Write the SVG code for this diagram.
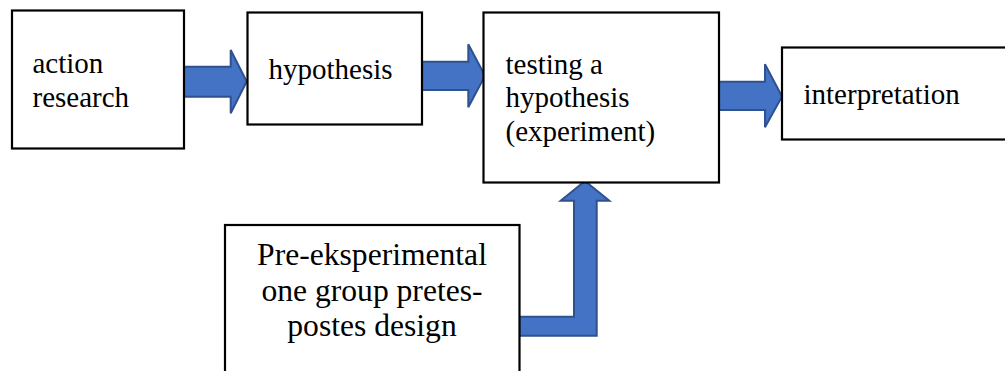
<svg xmlns="http://www.w3.org/2000/svg" width="1005" height="371" viewBox="0 0 1005 371">
<style>
.box{fill:#fff;stroke:#000;stroke-width:2.2}
.arr{fill:#4472C4;stroke:#2F528F;stroke-width:2;stroke-linejoin:miter}
.t{font-family:"Liberation Serif",Tinos,"Times New Roman",Times,"Nimbus Roman","DejaVu Serif","Noto Serif",serif;font-size:29px;fill:#000}
.b{font-family:"Liberation Serif",Tinos,"Times New Roman",Times,"Nimbus Roman","DejaVu Serif","Noto Serif",serif;font-size:31.6px;text-anchor:middle;fill:#000}
</style>
<rect width="1005" height="371" fill="#fff"/>
<g id="connectors">
<path class="arr" d="M184,66.7 L230.7,66.7 L230.7,50 L246.7,81.5 L230.7,113.3 L230.7,96.7 L184,96.7 Z"/>
<path class="arr" d="M422,61.7 L468.3,61.7 L468.3,44.3 L485,75.7 L468.3,107.3 L468.3,90 L422,90 Z"/>
<path class="arr" d="M719,81.7 L765,81.7 L765,64.3 L782,96.5 L765,127.3 L765,110 L719,110 Z"/>
<path class="arr" d="M519,316.7 L574,316.7 L574,200.7 L560.7,200.7 L585,181 L609.3,200.7 L596.7,200.7 L596.7,335.7 L519,335.7 Z"/>
</g>
<g id="node-action-research">
<rect class="box" x="12" y="10.5" width="172" height="138"/>
<text class="t" x="32.5" y="72.5">action</text>
<text class="t" x="32.5" y="106.5">research</text>
</g>
<g id="node-hypothesis">
<rect class="box" x="247.5" y="12.5" width="174.5" height="112"/>
<text class="t" x="268.5" y="79">hypothesis</text>
</g>
<g id="node-testing">
<rect class="box" x="483.5" y="12.5" width="235.5" height="170"/>
<text class="t" x="505.5" y="73.5">testing a</text>
<text class="t" x="505.5" y="107">hypothesis</text>
<text class="t" x="505.5" y="140.5">(experiment)</text>
</g>
<g id="node-interpretation">
<rect class="box" x="782" y="47.5" width="240" height="92"/>
<text class="t" x="803.5" y="104">interpretation</text>
</g>
<g id="node-pre-experimental">
<rect class="box" x="225" y="225" width="294.5" height="160"/>
<text class="b" x="372" y="265">Pre-eksperimental</text>
<text class="b" x="372" y="300.5">one group pretes-</text>
<text class="b" x="372" y="336">postes design</text>
</g>
</svg>
